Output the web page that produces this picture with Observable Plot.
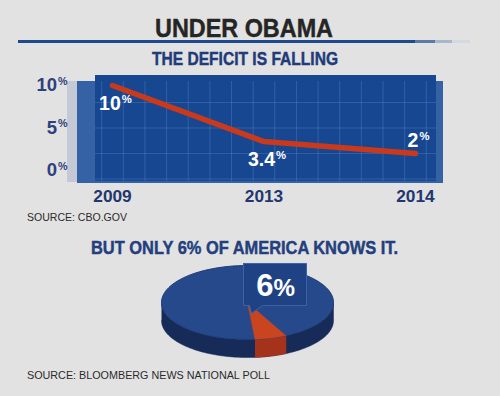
<!DOCTYPE html>
<html><head><meta charset="utf-8">
<script src="https://cdn.jsdelivr.net/npm/d3@7"></script>
<script src="https://cdn.jsdelivr.net/npm/@observablehq/plot@0.6"></script>
<style>
html,body{margin:0;padding:0;background:#e2e2e2;}
#root{position:relative;width:500px;height:396px;overflow:hidden;background:#e2e2e2;font-family:"Liberation Sans",Arial,sans-serif;}
.t{position:absolute;white-space:nowrap;line-height:1;}
.heavy{-webkit-text-stroke:0.45px currentColor;}
.box{position:absolute;}
#root svg{position:absolute;overflow:visible;font-family:"Liberation Sans",Arial,sans-serif;}
g[aria-label="x-axis tick label"] text, g[aria-label="y-axis tick label"] text{font-weight:bold;}
</style></head><body><div id="root"></div>
<script>
// ---------- data ----------
const years = ["2009", "2013", "2014"];
const deficit = [10, 3.4, 2];
const deficitLabels = ["10%", "3.4%", "2%"];
const yTicks = [0, 5, 10];
const awareShare = 6;            // % of America that knows
const pieShares = [awareShare, 100 - awareShare];
const calloutLabel = "6%";
const title = "UNDER OBAMA";
const subtitle = "THE DEFICIT IS FALLING";
const question = "BUT ONLY 6% OF AMERICA KNOWS IT.";
const source1 = "SOURCE: CBO.GOV";
const source2 = "SOURCE: BLOOMBERG NEWS NATIONAL POLL";

const root = document.getElementById("root");

function place(text, o) {
  const el = document.createElement("div");
  el.className = "t" + (o.heavy ? " heavy" : ""); el.textContent = text;
  el.style.fontSize = o.size + "px"; el.style.fontWeight = o.weight || "normal";
  el.style.color = o.color;
  el.style.top = (o.baseline - 0.8465 * o.size) + "px";
  el.style.left = "0px";
  root.appendChild(el);
  const w = el.getBoundingClientRect().width;
  const s = o.width ? o.width / w : 1;
  el.style.transformOrigin = "0 0";
  el.style.transform = `scaleX(${s})`;
  el.style.left = (o.cx != null ? o.cx - w * s / 2 : o.left) + "px";
  return el;
}
function box(x, y, w, h, bg) {
  const el = document.createElement("div");
  el.className = "box";
  Object.assign(el.style, {left: x + "px", top: y + "px", width: w + "px", height: h + "px", background: bg});
  root.appendChild(el);
  return el;
}

// ---------- titles ----------
place(title, {cx: 244, baseline: 37, size: 26.5, weight: "bold", color: "#252525", width: 178, heavy: true});
box(18, 39.5, 452, 3.5, "linear-gradient(to right,#1d4a8c 0,#1d4a8c 397px,#5b7aa8 397px,#5b7aa8 417px,#a8b7cb 417px,#a8b7cb 434px,#d3d9e1 434px,#d3d9e1 452px)");
place(subtitle, {cx: 245, baseline: 65, size: 19, weight: "bold", color: "#1f3b7a", width: 186, heavy: true});

// ---------- panel background ----------
box(67, 81, 10, 101, "#c3cad6");
box(77, 81, 366, 102, "#3462a4");
box(95, 75, 341, 106, "#184791");

// ---------- line chart ----------
const rows = years.map((y, i) => ({i, year: y, v: deficit[i], label: deficitLabels[i]}));
const xDom = [-0.231, 2.185];
const gx = d3.range(-1, 15).map(k => (k + 0.5) / 7);
const chart = Plot.plot({
  width: 500, height: 135,
  marginLeft: 77, marginRight: 57, marginTop: 11, marginBottom: 22,
  style: {background: "transparent", overflow: "visible"},
  x: {domain: xDom},
  y: {domain: [-1.53, 10.47]},
  marks: [
    Plot.gridX(gx, {stroke: "#6d97d4", strokeOpacity: 0.3, strokeWidth: 1, y1: -1.3, y2: 10.47}),
    Plot.gridY([-1, 2, 5, 8], {stroke: "#6d97d4", strokeOpacity: 0.3, strokeWidth: 1, x1: -0.112, x2: 2.139}),
    Plot.axisX({ticks: [0, 1, 2], tickFormat: i => years[i], tickSize: 0, tickPadding: 6, label: null,
      fontSize: 17.3, color: "#23366f", fill: "#23366f"}),
    Plot.axisY({ticks: yTicks, tickFormat: d => d + "%", tickSize: 0, tickPadding: 10, label: null,
      fontSize: 18.5, color: "#2e417c", fill: "#2e417c"}),
    Plot.line(rows, {x: "i", y: "v", stroke: "#c9391b", strokeWidth: 5.5, strokeLinecap: "round", strokeLinejoin: "round"}),
    Plot.text(rows.filter(d => d.i < 2), {x: "i", y: "v", text: "label", dy: 18, dx: 3, fill: "white", fontSize: 19.5, fontWeight: "bold"}),
    Plot.text(rows.filter(d => d.i === 2), {x: "i", y: "v", text: "label", dy: -13, dx: 3, fill: "white", fontSize: 19.5, fontWeight: "bold"})
  ]
});
chart.style.left = "0px"; chart.style.top = "70px";
root.appendChild(chart);

function supPct(svg) {
  svg.querySelectorAll("text").forEach(t => {
    if (t.querySelector("tspan")) return;
    const m = t.textContent.match(/^(.*\d)%$/);
    if (!m) return;
    t.textContent = m[1];
    const ts = document.createElementNS("http://www.w3.org/2000/svg", "tspan");
    ts.textContent = "%";
    ts.setAttribute("font-size", "58%");
    ts.setAttribute("dy", "-0.62em");
    ts.setAttribute("dx", "1");
    t.appendChild(ts);
  });
}
supPct(chart);

place(source1, {left: 27, baseline: 221, size: 11, color: "#2a2a2a", width: 100});

// ---------- question ----------
place(question, {cx: 244.5, baseline: 254.3, size: 19, weight: "bold", color: "#233f7d", width: 307, heavy: true});

// ---------- 3D pie ----------
const tilt = 0.43, depth = 0.21;
const startAngle = 5 * Math.PI / 180;
const a0 = startAngle, a1 = startAngle + pieShares[0] / d3.sum(pieShares) * 2 * Math.PI;
const ell = (t, dz = 0) => ({x: Math.sin(t), y: -tilt * Math.cos(t) - dz});
const arc = (t0, t1, n) => d3.range(n + 1).map(k => t0 + (t1 - t0) * k / n);
const sideAll = [...arc(-Math.PI / 2, Math.PI / 2, 90).map(t => ell(t)), ...arc(Math.PI / 2, -Math.PI / 2, 90).map(t => ell(t, depth))];
const sideSlice = [...arc(a0, a1, 30).map(t => ell(t)), ...arc(a1, a0, 30).map(t => ell(t, depth))];
const topAll = arc(0, 2 * Math.PI, 180).map(t => ell(t));
const topSlice = [{x: 0, y: 0}, ...arc(a0, a1, 30).map(t => ell(t))];
// callout (pixel offsets from pie centre, converted to pie units)
const u = 86;
const cp = ([px, py]) => ({x: px / u, y: -py / u});
const callout = [[-4, -39], [59, -39], [59, 3], [15, 3], [4, 11], [2, 3], [-4, 3]].map(cp);
const calloutText = [{...cp([28, -16]), label: calloutLabel}];

const pie = Plot.plot({
  width: 500, height: 120,
  marginLeft: 161, marginRight: 167, marginTop: 15, marginBottom: 13,
  style: {background: "transparent", overflow: "visible"},
  x: {domain: [-1, 1], axis: null},
  y: {domain: [-tilt - depth, tilt], axis: null},
  marks: [
    Plot.line(sideAll, {x: "x", y: "y", fill: "#172b58", stroke: "#172b58", strokeWidth: 0.5}),
    Plot.line(sideSlice, {x: "x", y: "y", fill: "#a5321a", stroke: "#a5321a", strokeWidth: 0.5}),
    Plot.line(topAll, {x: "x", y: "y", fill: "#26498c", stroke: "#1f3d78", strokeWidth: 1}),
    Plot.line(topSlice, {x: "x", y: "y", fill: "#c8451f", stroke: "#c8451f", strokeWidth: 0.5}),
    Plot.line([...callout, callout[0]], {x: "x", y: "y", fill: "#1e4283", stroke: "#3b63a6", strokeWidth: 1}),
    Plot.text(calloutText, {x: "x", y: "y", text: "label", fill: "white", fontSize: 31, fontWeight: "bold"})
  ]
});
pie.style.left = "0px"; pie.style.top = "250px";
root.appendChild(pie);
pie.querySelectorAll("text").forEach(t => {
  const m = t.textContent.match(/^(.*\d)%$/);
  if (!m) return;
  t.textContent = m[1];
  const ts = document.createElementNS("http://www.w3.org/2000/svg", "tspan");
  ts.textContent = "%"; ts.setAttribute("font-size", "78%");
  t.appendChild(ts);
});

place(source2, {left: 27, baseline: 379, size: 11, color: "#2a2a2a", width: 243});
</script></body></html>
